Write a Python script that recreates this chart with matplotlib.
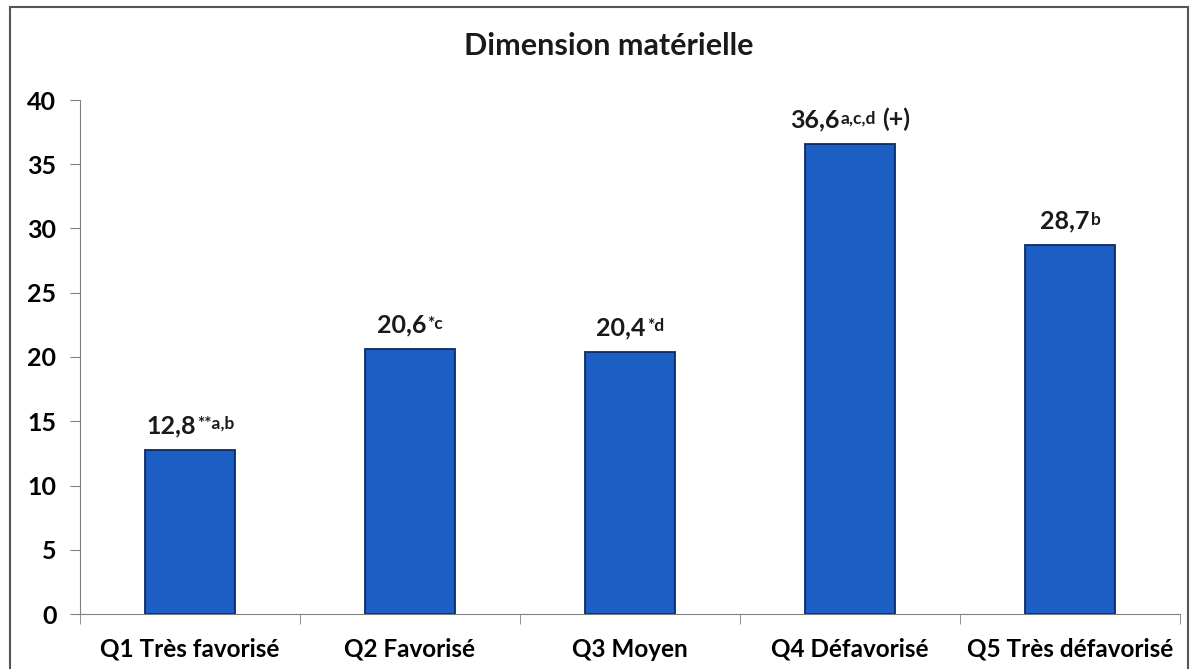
import matplotlib
matplotlib.use("Agg")
import matplotlib.pyplot as plt
from matplotlib.patches import Rectangle

categories = ["Q1 Très favorisé", "Q2 Favorisé", "Q3 Moyen", "Q4 Défavorisé", "Q5 Très défavorisé"]
values = [12.8, 20.6, 20.4, 36.6, 28.7]
main_labels = ["12,8", "20,6", "20,4", "36,6", "28,7"]
sup_labels = ["**a,b", "*c", "*d", "a,c,d", "b"]
tail_labels = ["", "", "", "(+)", ""]
yticks = [0, 5, 10, 15, 20, 25, 30, 35, 40]

plt.rcParams["font.family"] = ["Lato", "DejaVu Sans"]
plt.rcParams["font.weight"] = "bold"

fig = plt.figure(figsize=(11.94, 6.69), dpi=100)
ax = fig.add_axes([80 / 1194, 55 / 669, 1100 / 1194, 514 / 669])

x = list(range(len(categories)))
ax.bar(x, values, width=0.405, color="#1c5ec4", edgecolor="#0b2a66", linewidth=1.3, zorder=2)

groups = []
for i, v in enumerate(values):
    main = ax.annotate(main_labels[i], xy=(i, v), xytext=(0, 9),
                       textcoords="offset points", ha="center", va="bottom",
                       fontsize=18, fontweight="bold", color="#1a1a1a")
    sup = ax.annotate(sup_labels[i], xy=(1, 0.92), xycoords=main, xytext=(1, 0),
                      textcoords="offset points", ha="left", va="top",
                      fontsize=12.5, fontweight="bold", color="#1a1a1a")
    parts = [main, sup]
    if tail_labels[i]:
        tail = ax.annotate(tail_labels[i], xy=(1, 0), xycoords=(sup, main), xytext=(4, 0),
                           textcoords="offset points", ha="left", va="bottom",
                           fontsize=18, fontweight="bold", color="#1a1a1a")
        parts.append(tail)
    groups.append(parts)

ax.set_xlim(-0.5, len(categories) - 0.5)
ax.set_ylim(0, 40)
ax.set_yticks(yticks)
ax.set_yticklabels([str(t) for t in yticks], fontsize=18, fontweight="bold")
ax.set_xticks(x)
ax.set_xticklabels(categories, fontsize=17.5, fontweight="bold")
ax.set_xticks([i + 0.5 for i in range(-1, len(categories))], minor=True)
ax.tick_params(axis="x", which="major", length=0, pad=17)
ax.tick_params(axis="x", which="minor", length=7, color="#808080")
ax.tick_params(axis="y", length=7, color="#808080", pad=10)

for side in ["top", "right"]:
    ax.spines[side].set_visible(False)
for side in ["left", "bottom"]:
    ax.spines[side].set_color("#808080")

fig.text(609 / 1194, 1 - 46 / 669, "Dimension matérielle", ha="center", va="center",
         fontsize=22, fontweight="bold", color="#1a1a1a")

fig.patches.append(Rectangle((10 / 1194, -0.01), 1178 / 1194, 1 - 7 / 669 + 0.01,
                             transform=fig.transFigure, fill=False,
                             edgecolor="#555555", linewidth=1.5))

# centre each value label group (number + superscript) over its bar
fig.canvas.draw()
renderer = fig.canvas.get_renderer()
for parts in groups:
    boxes = [p.get_window_extent(renderer) for p in parts]
    left = min(b.x0 for b in boxes)
    right = max(b.x1 for b in boxes)
    main_box = boxes[0]
    shift_px = ((main_box.x0 + main_box.x1) / 2) - ((left + right) / 2)
    parts[0].xyann = (shift_px * 72 / fig.dpi, 9)

fig.savefig("out.png", dpi=100)
